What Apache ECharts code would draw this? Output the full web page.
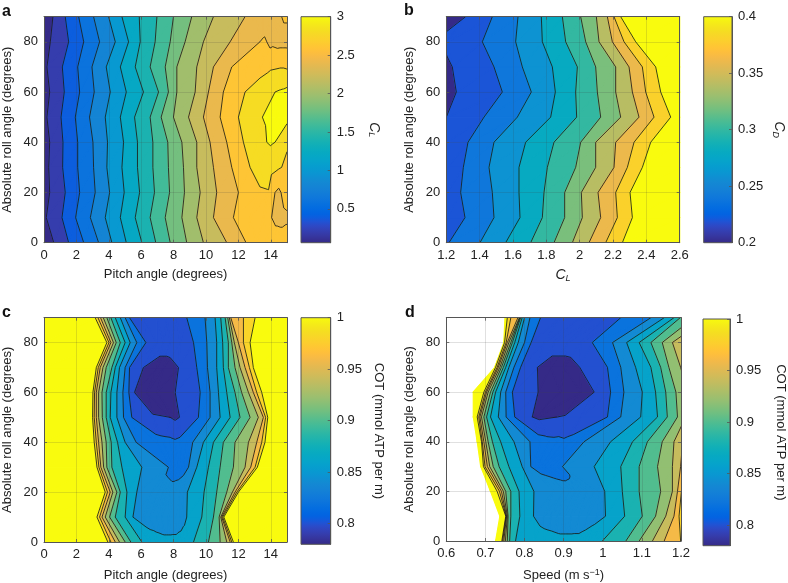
<!DOCTYPE html>
<html><head><meta charset="utf-8">
<style>html,body{margin:0;padding:0;background:#fff}#c{width:788px;height:583px}</style>
<script src="https://cdn.jsdelivr.net/npm/echarts@6/dist/echarts.min.js"></script>
</head><body><div id="c"></div>
<script>
// Rows: absolute roll angle. Each row lists x positions (clX, cdX, cotX, speedX) and the value there.
const rollRows = [0,10,20,30,40,50,60,70,80,90];
const parula = [[.2081,.1663,.5292],[.2116,.1898,.5777],[.2123,.2138,.627],[.2081,.2386,.6771],[.1959,.2645,.7279],[.1707,.2919,.7792],[.1253,.3242,.8303],[.0591,.3598,.8683],[.0117,.3875,.882],[.006,.4086,.8828],[.0165,.4266,.8786],[.0329,.443,.872],[.0498,.4586,.8641],[.0629,.4737,.8554],[.0723,.4887,.8467],[.0779,.504,.8384],[.0793,.52,.8312],[.0749,.5375,.8263],[.0641,.557,.824],[.0488,.5772,.8228],[.0343,.5966,.8199],[.0265,.6137,.8135],[.0239,.6287,.8038],[.0231,.6418,.7913],[.0228,.6535,.7768],[.0267,.6642,.7607],[.0384,.6743,.7436],[.059,.6838,.7254],[.0843,.6928,.7062],[.1133,.7015,.6859],[.1453,.7098,.6646],[.1801,.7177,.6424],[.2178,.725,.6193],[.2586,.7317,.5954],[.3022,.7376,.5712],[.3482,.7424,.5473],[.3953,.7459,.5244],[.442,.7481,.5033],[.4871,.7491,.484],[.53,.7491,.4661],[.5709,.7485,.4494],[.6099,.7473,.4337],[.6473,.7456,.4188],[.6834,.7435,.4044],[.7184,.7411,.3905],[.7525,.7384,.3768],[.7858,.7356,.3633],[.8185,.7327,.3498],[.8507,.7299,.336],[.8824,.7274,.3217],[.9139,.7258,.3063],[.945,.7261,.2886],[.9739,.7314,.2666],[.9938,.7455,.2403],[.999,.7653,.2164],[.9955,.7861,.1967],[.988,.8066,.1794],[.9789,.8271,.1633],[.9697,.8481,.1475],[.9626,.8705,.1309],[.9589,.8949,.1132],[.9598,.9218,.0948],[.9661,.9514,.0755],[.9763,.9831,.0538]];

const clLevels = [.2,.4,.6,.8,1,1.2,1.4,1.6,1.8,2,2.2,2.4,2.6,2.8,3];
const clX = [
[0,.60,1.52,2.45,3.37,4.19,5.08,6.04,6.90,7.79,8.81,9.84,11.28,12.47,13.13,13.75,14.16,14.46,14.77,15],
[0,.14,1.11,1.95,2.86,3.78,4.71,5.63,6.55,7.48,8.51,9.43,10.46,11.69,12.72,13.54,14.05,14.36,14.67,15],
[0,.35,1.31,2.20,3.16,4.05,4.95,5.90,6.82,7.75,8.67,9.64,10.66,12.00,13.33,13.85,14.26,14.46,14.63,15],
[0,.29,1.15,2.08,3.06,3.88,4.81,5.77,6.72,7.68,8.61,9.43,10.46,11.59,12.72,13.33,13.95,14.46,14.67,15],
[0,.35,1.17,2.08,3.02,3.92,4.91,5.77,6.72,7.64,8.51,9.43,10.25,11.28,12.31,13.13,13.75,13.99,14.26,15],
[0,.18,1.05,1.93,2.81,3.78,4.71,5.59,6.55,7.23,7.99,8.92,9.84,10.87,12.00,13.48,13.95,14.36,14.67,15],
[0,.35,1.25,2.20,3.10,4.09,5.08,6.14,7.07,7.68,8.20,9.33,10.15,11.07,12.41,13.33,14.26,14.57,14.77,15],
[0,.18,1.13,2.08,2.96,3.84,4.71,5.63,6.55,7.48,8.20,9.43,10.46,11.59,12.51,13.33,13.95,14.57,14.77,15],
[0,.39,1.52,2.45,3.43,4.40,5.22,5.94,6.86,7.79,8.71,9.84,11.49,13.33,13.54,13.75,14.16,14.57,14.77,15],
[0,.55,1.31,2.14,3.06,3.99,4.81,5.88,6.97,7.99,9.12,10.46,12.41,13.13,13.54,13.95,14.46,14.67,14.88,15]
];
const clV = [
[.1,.2,.4,.6,.8,1,1.2,1.4,1.6,1.8,2,2.2,2.4,2.6,2.66,2.68,2.68,2.68,2.68,2.68],
[.18,.2,.4,.6,.8,1,1.2,1.4,1.6,1.8,2,2.2,2.4,2.6,2.7,2.68,2.6,2.56,2.55,2.57],
[.12,.2,.4,.6,.8,1,1.2,1.4,1.6,1.8,2,2.2,2.4,2.6,2.78,2.79,2.6,2.56,2.6,2.68],
[.12,.2,.4,.6,.8,1,1.2,1.4,1.6,1.8,2,2.2,2.4,2.6,2.8,2.87,2.88,2.82,2.8,2.75],
[.12,.2,.4,.6,.8,1,1.2,1.4,1.6,1.8,2,2.2,2.4,2.6,2.8,2.92,3,3.02,3,2.83],
[.14,.2,.4,.6,.8,1,1.2,1.4,1.6,1.8,2,2.2,2.4,2.6,2.8,3,3.04,3.06,3.08,3.06],
[.12,.2,.4,.6,.8,1,1.2,1.4,1.6,1.8,2,2.2,2.4,2.6,2.8,2.9,3,3.02,3.03,3.05],
[.14,.2,.4,.6,.8,1,1.2,1.4,1.6,1.8,2,2.2,2.4,2.6,2.66,2.72,2.77,2.79,2.79,2.78],
[.1,.2,.4,.6,.8,1,1.2,1.4,1.6,1.8,2,2.2,2.4,2.6,2.62,2.6,2.56,2.54,2.54,2.54],
[.1,.2,.4,.6,.8,1,1.2,1.4,1.6,1.8,2,2.2,2.4,2.47,2.5,2.52,2.55,2.6,2.62,2.62]
];

const cdLevels = [.22,.24,.26,.28,.3,.32,.34,.36,.38,.4];
const cdX = [
[1.2,1.206,1.216,1.402,1.556,1.706,1.846,1.956,2.056,2.156,2.256,2.6],
[1.2,1.206,1.312,1.486,1.642,1.776,1.91,2.016,2.126,2.226,2.316,2.6],
[1.2,1.206,1.286,1.476,1.636,1.786,1.91,2.01,2.11,2.216,2.302,2.6],
[1.2,1.206,1.302,1.456,1.636,1.806,1.976,2.096,2.206,2.286,2.376,2.6],
[1.2,1.206,1.33,1.486,1.676,1.846,2.006,2.096,2.216,2.326,2.426,2.6],
[1.2,1.206,1.426,1.626,1.826,1.982,2.126,2.246,2.356,2.446,2.546,2.6],
[1.2,1.26,1.536,1.71,1.854,1.976,2.106,2.216,2.316,2.396,2.486,2.6],
[1.2,1.236,1.486,1.656,1.836,1.986,2.096,2.216,2.296,2.376,2.456,2.6],
[1.2,1.206,1.416,1.616,1.776,1.916,2.036,2.116,2.196,2.266,2.336,2.6],
[1.2,1.316,1.476,1.63,1.77,1.896,2.006,2.1,2.166,2.206,2.246,2.6]
];
const cdV = [
[.238,.239,.24,.26,.28,.3,.32,.34,.36,.38,.4,.44],
[.234,.235,.24,.26,.28,.3,.32,.34,.36,.38,.4,.44],
[.23,.231,.24,.26,.28,.3,.32,.34,.36,.38,.4,.44],
[.228,.229,.24,.26,.28,.3,.32,.34,.36,.38,.4,.44],
[.226,.227,.24,.26,.28,.3,.32,.34,.36,.38,.4,.44],
[.22,.221,.24,.26,.28,.3,.32,.34,.36,.38,.4,.44],
[.212,.22,.24,.26,.28,.3,.32,.34,.36,.38,.4,.44],
[.216,.22,.24,.26,.28,.3,.32,.34,.36,.38,.4,.44],
[.224,.225,.24,.26,.28,.3,.32,.34,.36,.38,.4,.44],
[.214,.22,.24,.26,.28,.3,.32,.34,.36,.38,.4,.44]
];

const cotLevels = [.8,.82,.84,.86,.88,.9,.92,.94,.96,.98,1];
const cotX = [
[0,3.94,4.13,4.40,4.66,5.01,5.36,6.04,6.55,6.97,7.17,7.48,7.68,7.89,8.20,8.51,8.71,8.96,9.23,10.15,10.87,11.28,11.49,11.59,11.69,15],
[0,3.27,3.43,3.58,3.78,4.05,4.40,5.01,5.49,6.14,6.55,6.97,7.27,7.68,8.10,8.40,8.65,8.81,9.74,10.46,10.81,10.91,10.97,11.03,11.10,15],
[0,3.78,3.92,4.09,4.25,4.50,4.71,5.12,5.73,6.66,7.07,7.37,7.58,7.79,8.10,8.40,8.65,8.85,9.88,10.66,11.28,11.63,11.79,11.90,12.00,15],
[0,3.27,3.39,3.51,3.68,3.88,4.19,4.81,6.04,7.68,7.89,8.03,8.20,8.34,8.51,8.71,8.92,9.43,10.15,10.87,11.69,12.41,12.76,13.03,13.17,15],
[0,3.10,3.23,3.37,3.58,3.84,4.15,4.54,5.01,5.69,6.97,7.38,7.79,8.10,8.40,8.81,9.18,9.84,10.46,11.07,11.79,12.62,13.13,13.44,13.64,15],
[0,3.00,3.10,3.23,3.37,3.60,3.84,4.09,4.50,4.91,5.42,6.76,7.79,8.10,8.36,9.53,10.25,10.87,11.49,12.10,12.72,13.23,13.54,13.68,13.81,15],
[0,3.02,3.12,3.23,3.37,3.58,3.84,4.13,4.50,4.87,5.24,5.59,6.35,6.97,8.10,9.64,10.25,10.77,11.28,11.79,12.20,12.62,12.92,13.13,13.44,15],
[0,3.23,3.35,3.47,3.64,3.84,4.19,4.40,4.66,5.01,5.28,6.14,6.97,7.38,8.30,9.43,10.09,10.66,11.07,11.38,11.79,12.10,12.41,12.68,12.92,15],
[0,3.88,4.01,4.13,4.29,4.46,4.71,5.01,5.32,5.73,6.29,6.97,7.38,7.79,8.40,9.23,10.05,10.66,11.03,11.38,11.59,11.75,12.00,12.31,12.72,15],
[0,3.16,3.33,3.49,3.66,3.88,4.13,4.40,4.71,5.01,5.28,6.14,6.97,7.58,8.20,8.81,9.94,10.56,10.91,11.18,11.34,11.44,11.53,12.31,13.03,15]
];
const cotV = [
[1.05,1,.98,.96,.94,.92,.9,.88,.875,.87,.868,.866,.866,.866,.866,.868,.87,.875,.88,.9,.92,.94,.96,.98,1,1.05],
[1.05,1,.98,.96,.94,.92,.9,.88,.86,.85,.848,.846,.845,.845,.846,.85,.855,.86,.88,.9,.92,.94,.96,.98,1,1.05],
[1.05,1,.98,.96,.94,.92,.9,.88,.86,.852,.849,.847,.846,.846,.847,.85,.855,.86,.88,.9,.92,.94,.96,.98,1,1.05],
[1.05,1,.98,.96,.94,.92,.9,.88,.86,.84,.835,.834,.833,.832,.833,.835,.84,.86,.88,.9,.92,.94,.96,.98,1,1.05],
[1.05,1,.98,.96,.94,.92,.9,.88,.86,.84,.828,.826,.825,.823,.825,.83,.84,.86,.88,.9,.92,.94,.96,.98,1,1.05],
[1.05,1,.98,.96,.94,.92,.9,.88,.86,.84,.82,.803,.8,.797,.8,.82,.84,.86,.88,.9,.92,.94,.96,.98,1,1.05],
[1.05,1,.98,.96,.94,.92,.9,.88,.86,.84,.82,.8,.78,.775,.8,.82,.84,.86,.88,.9,.92,.94,.96,.98,1,1.05],
[1.05,1,.98,.96,.94,.92,.9,.88,.86,.84,.82,.8,.79,.79,.8,.82,.84,.86,.88,.9,.92,.94,.96,.98,1,1.05],
[1.05,1,.98,.96,.94,.92,.9,.88,.86,.84,.82,.815,.812,.812,.815,.82,.84,.86,.88,.9,.92,.94,.96,.98,1,1.05],
[1.05,1,.98,.96,.94,.92,.9,.88,.86,.84,.82,.812,.81,.81,.812,.82,.84,.86,.88,.9,.92,.94,.96,.98,1,1.05]
];
const speedX = [
[.726,.742,.744,.747,.751,.756,.762,.777,.824,.850,.871,.888,.905,.922,.939,.952,.965,.978,.999,1.059,1.093,1.127,1.157,1.199,1.233,1.276],
[.737,.752,.753,.754,.756,.758,.765,.788,.823,.850,.867,.884,.901,.918,.939,.961,.986,1.007,1.056,1.101,1.135,1.161,1.182,1.195,1.216,1.259],
[.713,.730,.736,.741,.746,.752,.765,.786,.824,.875,.901,.918,.931,.944,.961,.978,.993,1.005,1.050,1.093,1.148,1.178,1.191,1.201,1.225,1.268],
[.688,.695,.699,.705,.711,.720,.735,.760,.794,.816,.828,.837,.846,.854,.867,.884,.897,.978,1.046,1.093,1.140,1.178,1.199,1.225,1.259,1.302],
[.679,.690,.692,.696,.701,.707,.718,.739,.773,.814,.841,.863,.884,.901,.918,.935,.952,1.020,1.076,1.114,1.152,1.182,1.204,1.233,1.276,1.319],
[.669,.679,.683,.686,.690,.696,.703,.713,.733,.753,.775,.820,.833,.901,.944,1.012,1.046,1.097,1.140,1.165,1.191,1.212,1.233,1.259,1.285,1.327],
[.669,.696,.700,.703,.707,.713,.719,.726,.739,.752,.769,.835,.892,.944,.978,1.020,1.054,1.101,1.135,1.161,1.187,1.216,1.250,1.285,1.319,1.361],
[.724,.726,.730,.733,.737,.741,.746,.752,.760,.773,.790,.833,.867,.901,.941,1.012,1.046,1.084,1.123,1.148,1.169,1.199,1.233,1.268,1.302,1.344],
[.747,.749,.753,.756,.760,.765,.769,.775,.784,.800,.817,.850,.875,.909,.944,.973,1.025,1.061,1.093,1.123,1.152,1.178,1.225,1.268,1.310,1.353],
[.750,.756,.765,.783,.787,.788,.790,.794,.800,.814,.841,.892,.944,.978,1.012,1.046,1.123,1.157,1.182,1.198,1.233,1.268,1.302,1.336,1.370,1.412]
];
const speedV = [
[1.05,1,.98,.96,.94,.92,.9,.88,.875,.87,.868,.866,.866,.866,.866,.868,.87,.875,.88,.9,.92,.94,.96,.98,1,1.05],
[1.05,1,.98,.96,.94,.92,.9,.88,.86,.85,.848,.846,.845,.845,.846,.85,.855,.86,.88,.9,.92,.94,.96,.98,1,1.05],
[1.05,1,.98,.96,.94,.92,.9,.88,.86,.852,.849,.847,.846,.846,.847,.85,.855,.86,.88,.9,.92,.94,.96,.98,1,1.05],
[1.05,1,.98,.96,.94,.92,.9,.88,.86,.84,.835,.834,.833,.832,.833,.835,.84,.86,.88,.9,.92,.94,.96,.98,1,1.05],
[1.05,1,.98,.96,.94,.92,.9,.88,.86,.84,.828,.826,.825,.823,.825,.83,.84,.86,.88,.9,.92,.94,.96,.98,1,1.05],
[1.05,1,.98,.96,.94,.92,.9,.88,.86,.84,.82,.8,.797,.801,.808,.82,.84,.86,.88,.9,.92,.94,.96,.98,1,1.05],
[1.05,1,.98,.96,.94,.92,.9,.88,.86,.84,.82,.8,.775,.785,.8,.82,.84,.86,.88,.9,.92,.94,.96,.98,1,1.05],
[1.05,1,.98,.96,.94,.92,.9,.88,.86,.84,.82,.8,.79,.79,.8,.82,.84,.86,.88,.9,.92,.94,.96,.98,1,1.05],
[1.05,1,.98,.96,.94,.92,.9,.88,.86,.84,.82,.815,.812,.812,.815,.82,.84,.86,.88,.9,.92,.94,.96,.98,1,1.05],
[1.05,1,.98,.96,.94,.92,.9,.88,.86,.84,.82,.812,.81,.81,.812,.82,.84,.86,.88,.9,.92,.94,.96,.98,1,1.05]
];

const clTicks = [.5,1,1.5,2,2.5,3];
const cdTicks = [.2,.25,.3,.35,.4];
const cotTicks = [.8,.85,.9,.95,1];
const panelLetters = ['a','b','c','d'];

// ---- colour and band helpers
function rgbOf(a){return 'rgb('+a.map(v=>Math.round(v*255)).join(',')+')';}
function parulaAt(t){t=Math.max(0,Math.min(1,t));const f=t*(parula.length-1),i=Math.min(parula.length-2,Math.floor(f)),a=parula[i],b=parula[i+1],k=f-i;
  return rgbOf(a.map((v,j)=>v+(b[j]-v)*k));}
function clipAbove(poly,L,keepAbove){const out=[];for(let i=0;i<poly.length;i++){const p=poly[i],q=poly[(i+1)%poly.length];
  const pi=keepAbove?p[2]>=L:p[2]<L,qi=keepAbove?q[2]>=L:q[2]<L;if(pi)out.push(p);
  if(pi!==qi){const t=(L-p[2])/(q[2]-p[2]);out.push([p[0]+(q[0]-p[0])*t,p[1]+(q[1]-p[1])*t,L]);}}return out;}
function buildRecords(X,V,levels,lo,hi){const fills=[],lines=[];
  const tri=(a,b,c)=>{const t=[a,b,c];
    for(let i=0;i<=levels.length;i++){let poly=t;
      if(i>0)poly=clipAbove(poly,levels[i-1],true);
      if(i<levels.length&&poly.length>2)poly=clipAbove(poly,levels[i],false);
      if(poly.length>2){const base=i===0?lo:levels[i-1];fills.push({pts:poly.map(p=>[p[0],p[1]]),color:parulaAt((base-lo)/(hi-lo))});}}
    levels.forEach(L=>{const seg=[];for(let i=0;i<3;i++){const p=t[i],q=t[(i+1)%3];
      if((p[2]>=L)!==(q[2]>=L)){const k=(L-p[2])/(q[2]-p[2]);seg.push([p[0]+(q[0]-p[0])*k,p[1]+(q[1]-p[1])*k]);}}
      if(seg.length===2)lines.push({seg});});};
  for(let r=0;r<X.length-1;r++)for(let c=0;c<X[r].length-1;c++){
    const A=[X[r][c],rollRows[r],V[r][c]],B=[X[r][c+1],rollRows[r],V[r][c+1]],C=[X[r+1][c],rollRows[r+1],V[r+1][c]],D=[X[r+1][c+1],rollRows[r+1],V[r+1][c+1]];
    tri(A,B,D);tri(A,D,C);}
  return fills.concat(lines);}

const FONT='"Liberation Sans",Arial,sans-serif',TXT='#222',BOX='#555';
const L1=43.7,W1=243.3,L2=446.3;
const panels=[
 {X:clX,V:clV,levels:clLevels,lo:.06,hi:3,left:L1,width:W1,top:16.7,height:226,xmin:0,xmax:15,xint:2,xname:'Pitch angle (degrees)',xgap:25,
  barLeft:301,barW:29.7,barTop:16.7,barH:226,ticks:clTicks,barName:'{i|C}{s|L}',barGap:36},
 {X:cdX,V:cdV,levels:cdLevels,lo:.2,hi:.4,left:L2,width:233.4,top:16.7,height:226,xmin:1.2,xmax:2.6,xint:.2,xname:'{i|C}{s|L}',xgap:25,
  barLeft:703.7,barW:28.3,barTop:16.7,barH:226,ticks:cdTicks,barName:'{i|C}{s|D}',barGap:39},
 {X:cotX,V:cotV,levels:cotLevels,lo:.78,hi:1,left:L1,width:W1,top:317.7,height:226.6,xmin:0,xmax:15,xint:2,xname:'Pitch angle (degrees)',xgap:27,
  barLeft:301,barW:29.7,barTop:317.7,barH:226.6,ticks:cotTicks,barName:'COT (mmol ATP per m)',barGap:41},
 {X:speedX,V:speedV,levels:cotLevels,lo:.78,hi:1,left:L2,width:234.7,top:317.7,height:227.3,xmin:.6,xmax:1.2,xint:.1,xname:'{t|Speed (m s}{u|\u22121}{t|)}',xgap:27,
  barLeft:703,barW:29.7,barTop:319,barH:226.7,ticks:cotTicks,barName:'COT (mmol ATP per m)',barGap:44}
];
const rich={i:{fontStyle:'italic',fontSize:14,fontFamily:FONT,color:TXT},
 s:{fontStyle:'italic',fontSize:9,fontFamily:FONT,color:TXT,padding:[6,0,0,0]},
 t:{fontSize:13,fontFamily:FONT,color:TXT},
 u:{fontSize:9,fontFamily:FONT,color:TXT,padding:[0,0,6,0]}};
const grids=[],xAxes=[],yAxes=[],series=[],titles=[];
const tickStyle={show:true,inside:true,length:3,lineStyle:{color:BOX,width:.8}};
const lineStyle={show:true,onZero:false,lineStyle:{color:BOX,width:1}};
const labelStyle={color:TXT,fontSize:13,fontFamily:FONT};
panels.forEach((p,i)=>{
  const gi=grids.length;
  grids.push({left:p.left,top:p.top,width:p.width,height:p.height});
  const xi=xAxes.length,yi=yAxes.length;
  xAxes.push({type:'value',gridIndex:gi,min:p.xmin,max:p.xmax,interval:p.xint,position:'bottom',z:5,axisLine:lineStyle,axisTick:tickStyle,
    axisLabel:Object.assign({margin:6,showMaxLabel:p.xmin!==0},labelStyle),
    splitLine:{show:true,lineStyle:{color:'rgba(60,60,60,0.16)',width:1}},
    name:p.xname,nameLocation:'middle',nameGap:p.xgap,nameTextStyle:{color:TXT,fontSize:13,fontFamily:FONT,rich}});
  xAxes.push({type:'value',gridIndex:gi,min:p.xmin,max:p.xmax,interval:p.xint,position:'top',z:5,axisLine:lineStyle,axisTick:tickStyle,axisLabel:{show:false},splitLine:{show:false}});
  yAxes.push({type:'value',gridIndex:gi,min:0,max:90,interval:20,position:'left',z:5,axisLine:lineStyle,axisTick:tickStyle,
    axisLabel:Object.assign({margin:6,showMaxLabel:false},labelStyle),
    splitLine:{show:true,lineStyle:{color:'rgba(60,60,60,0.16)',width:1}},
    name:'Absolute roll angle (degrees)',nameLocation:'middle',nameGap:30,nameTextStyle:{color:TXT,fontSize:13,fontFamily:FONT}});
  yAxes.push({type:'value',gridIndex:gi,min:0,max:90,interval:20,position:'right',z:5,axisLine:lineStyle,axisTick:tickStyle,axisLabel:{show:false},splitLine:{show:false}});
  const recs=buildRecords(p.X,p.V,p.levels,p.lo,p.hi);
  series.push({type:'custom',xAxisIndex:xi,yAxisIndex:yi,clip:true,silent:true,animation:false,progressive:0,
    data:recs.map((r,k)=>[k]),encode:{x:[],y:[]},
    renderItem:(params,api)=>{const r=recs[params.dataIndex];
      if(r.seg){const a=api.coord(r.seg[0]),b=api.coord(r.seg[1]);
        return {type:'line',shape:{x1:a[0],y1:a[1],x2:b[0],y2:b[1]},style:{stroke:'#1c1c1c',lineWidth:1,opacity:.85}};}
      return {type:'polygon',shape:{points:r.pts.map(q=>api.coord(q))},style:{fill:r.color,stroke:r.color,lineWidth:1.2,lineJoin:'round'}};}});
  // colour bar
  const gb=grids.length;
  grids.push({left:p.barLeft,top:p.barTop,width:p.barW,height:p.barH});
  const xb=xAxes.length,yb=yAxes.length;
  xAxes.push({type:'value',gridIndex:gb,min:0,max:1,show:false});
  yAxes.push({type:'value',gridIndex:gb,min:p.lo,max:p.hi,position:'right',z:5,
    axisLine:lineStyle,axisTick:Object.assign({customValues:p.ticks},tickStyle),splitLine:{show:false},
    axisLabel:Object.assign({margin:6,customValues:p.ticks,formatter:v=>String(+v.toFixed(2))},labelStyle),
    name:p.barName,nameLocation:'middle',nameRotate:-90,nameGap:p.barGap,nameTextStyle:{color:TXT,fontSize:13,fontFamily:FONT,rich}});
  series.push({type:'custom',xAxisIndex:xb,yAxisIndex:yb,silent:true,animation:false,data:[[0]],encode:{x:[],y:[]},
    renderItem:(params,api)=>{const a=api.coord([0,p.hi]),b=api.coord([1,p.lo]);
      return {type:'rect',shape:{x:a[0],y:a[1],width:b[0]-a[0],height:b[1]-a[1]},
        style:{stroke:BOX,lineWidth:1,fill:{type:'linear',x:0,y:1,x2:0,y2:0,colorStops:parula.map((c,k)=>({offset:k/(parula.length-1),color:rgbOf(c)}))}}};}});
});
const lp=[[2,4],[404,3],[2,305],[405,305]];
panelLetters.forEach((t,i)=>titles.push({text:t,left:lp[i][0],top:lp[i][1],padding:0,textStyle:{fontSize:16,fontWeight:'bold',color:'#111',fontFamily:FONT}}));
const chart=echarts.init(document.getElementById('c'),null,{renderer:'canvas'});
chart.setOption({animation:false,backgroundColor:'#fff',title:titles,grid:grids,xAxis:xAxes,yAxis:yAxes,series});
</script></body></html>
